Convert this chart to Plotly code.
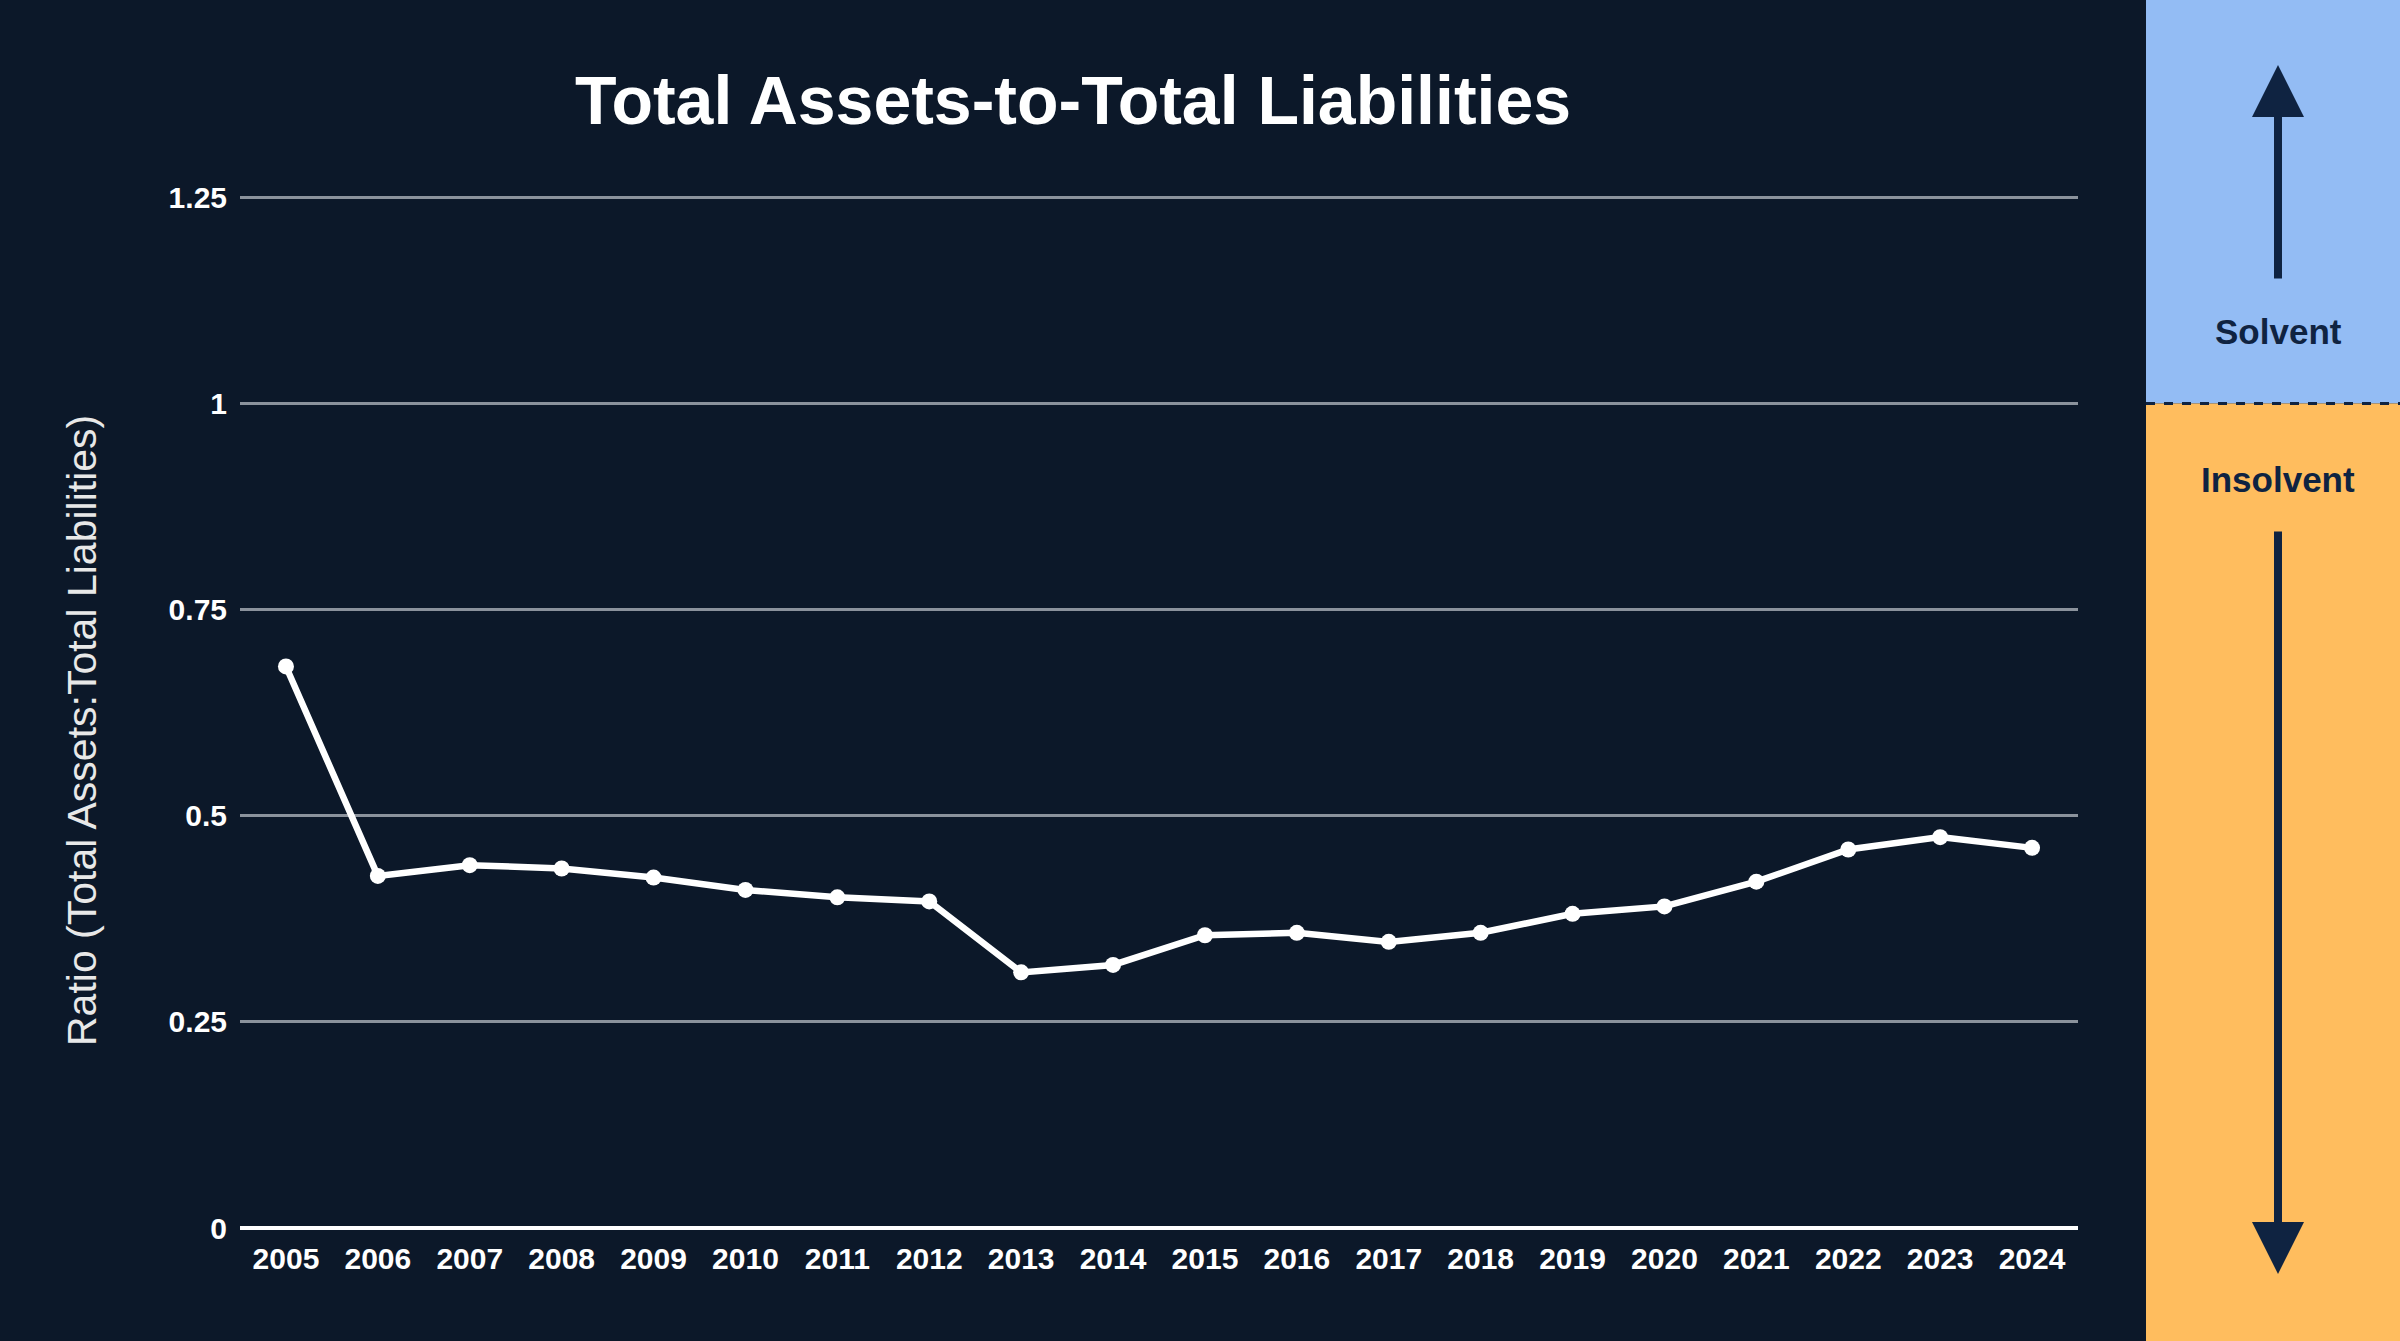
import plotly.graph_objects as go

# ---------------- data ----------------
years = [str(y) for y in range(2005, 2025)]
ratio = [0.681, 0.427, 0.440, 0.436, 0.425, 0.410, 0.401, 0.396, 0.310, 0.319,
         0.355, 0.358, 0.347, 0.358, 0.381, 0.390, 0.420, 0.459, 0.474, 0.461]
y_tick_vals = [0, 0.25, 0.5, 0.75, 1, 1.25]
y_tick_text = ["0", "0.25", "0.5", "0.75", "1", "1.25"]
threshold = 1.0
y_range = [0, 1.26]

title_text = "Total Assets-to-Total Liabilities"
y_title = "Ratio (Total Assets:Total Liabilities)"
solvent_label = "Solvent"
insolvent_label = "Insolvent"

# ---------------- styling / layout ----------------
W, H = 2400, 1341
ML, MR, MB = 240, 322, 113
PX_PER_UNIT = 1031 / 1.25          # vertical scale of the reference
PH = round(y_range[1] * PX_PER_UNIT)
MT = H - MB - PH
PW = W - ML - MR

BG = "#0c1829"
BLUE = "#93bcf4"
ORANGE = "#ffbd5e"
NAVY = "#0f2341"
FONT = "Arial, Liberation Sans, Helvetica, sans-serif"


def px_x(px):
    return (px - ML) / PW


def px_y(py):
    return (H - MB - py) / PH


thr_paper = (threshold - y_range[0]) / (y_range[1] - y_range[0])

fig = go.Figure()
fig.add_trace(go.Scatter(
    x=years, y=ratio, mode="lines+markers",
    line=dict(color="white", width=6.5),
    marker=dict(color="white", size=16),
    showlegend=False, hoverinfo="x+y",
))

panel_left = px_x(2146)
panel_right = px_x(W + 10)
top = px_y(-10)
bottom = px_y(H + 10)
arrow_x = px_x(2278)

shapes = [
    dict(type="rect", xref="paper", yref="paper", x0=panel_left, x1=panel_right,
         y0=thr_paper, y1=top, fillcolor=BLUE, line=dict(width=0), layer="below"),
    dict(type="rect", xref="paper", yref="paper", x0=panel_left, x1=panel_right,
         y0=bottom, y1=thr_paper, fillcolor=ORANGE, line=dict(width=0), layer="below"),
    dict(type="line", xref="paper", yref="paper", x0=panel_left, x1=panel_right,
         y0=thr_paper, y1=thr_paper, line=dict(color=NAVY, width=3, dash="dash")),
]

annotations = [
    # up arrow
    dict(xref="paper", yref="paper", x=arrow_x, y=px_y(65), ax=0, ay=215,
         text="", showarrow=True, arrowhead=2, arrowsize=1.3, arrowwidth=8,
         arrowcolor=NAVY, standoff=0, startstandoff=0),
    # down arrow
    dict(xref="paper", yref="paper", x=arrow_x, y=px_y(1274), ax=0, ay=-744,
         text="", showarrow=True, arrowhead=2, arrowsize=1.3, arrowwidth=8,
         arrowcolor=NAVY, standoff=0, startstandoff=0),
    dict(xref="paper", yref="paper", x=arrow_x, y=px_y(331), text=f"<b>{solvent_label}</b>",
         showarrow=False, font=dict(family=FONT, size=35, color=NAVY),
         xanchor="center", yanchor="middle"),
    dict(xref="paper", yref="paper", x=arrow_x, y=px_y(479), text=f"<b>{insolvent_label}</b>",
         showarrow=False, font=dict(family=FONT, size=35, color=NAVY),
         xanchor="center", yanchor="middle"),
    # y-axis title
    dict(xref="paper", yref="paper", x=px_x(82), y=px_y(731), text=y_title,
         textangle=-90, showarrow=False,
         font=dict(family=FONT, size=41, color="#e8e8e8"),
         xanchor="center", yanchor="middle"),
]

fig.update_layout(
    width=W, height=H,
    margin=dict(l=ML, r=MR, t=MT, b=MB, autoexpand=False),
    paper_bgcolor=BG, plot_bgcolor=BG,
    title=dict(text=f"<b>{title_text}</b>", xref="container", yref="container",
               x=1073 / W, y=1 - 100 / H, xanchor="center", yanchor="middle",
               font=dict(family=FONT, size=68, color="white")),
    font=dict(family=FONT, color="white"),
    shapes=shapes,
    annotations=annotations,
    xaxis=dict(type="category", range=[-0.5, len(years) - 0.5], showgrid=False,
               showline=False, zeroline=False, ticks="",
               tickvals=years, ticktext=[f"<b>{y}</b>" for y in years],
               tickfont=dict(family=FONT, size=30, color="white"),
               ticklabelstandoff=10, fixedrange=True),
    yaxis=dict(range=y_range, tickvals=y_tick_vals,
               ticktext=[f"<b>{t}</b>" for t in y_tick_text],
               showgrid=True, gridcolor="#8b929c", gridwidth=3,
               zeroline=True, zerolinecolor="white", zerolinewidth=4,
               showline=False, ticks="",
               tickfont=dict(family=FONT, size=30, color="white"),
               ticklabelstandoff=12,
               fixedrange=True),
)

fig.write_html("out.html", config={"displayModeBar": False},
               post_script="document.body.style.margin='0';document.body.style.overflow='hidden';")
